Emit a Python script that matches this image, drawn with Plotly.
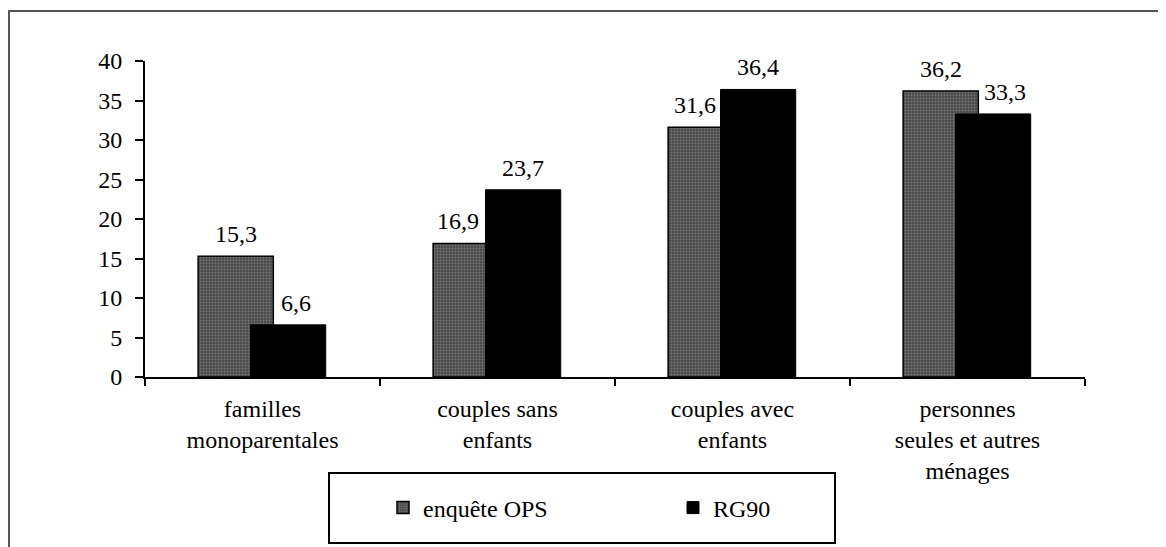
import plotly.graph_objects as go

categories = ["familles<br>monoparentales", "couples sans<br>enfants",
              "couples avec<br>enfants", "personnes<br>seules et autres<br>ménages"]
ops_values = [15.3, 16.9, 31.6, 36.2]
rg90_values = [6.6, 23.7, 36.4, 33.3]
ops_labels = ["15,3", "16,9", "31,6", "36,2"]
rg90_labels = ["6,6", "23,7", "36,4", "33,3"]
y_ticks = [0, 5, 10, 15, 20, 25, 30, 35, 40]

FONT = "Liberation Serif"
FS = 24
BAR_W = 0.32
OPS_OFF = -0.274
RG_OFF = -0.051

# figure sits inside the page body's 8px margin
W, H = 1158, 539
L, T = 137, 53
PW, PH = 940, 316
R = W - L - PW
B = H - T - PH


def px_x(xw):  # window x -> paper
    return (xw - 8 - L) / PW


def px_y(yw):  # window y -> paper
    return (T + PH - (yw - 8)) / PH


fig = go.Figure()
fig.add_trace(go.Bar(
    name="enquête OPS", x=categories, y=ops_values,
    width=BAR_W, offset=OPS_OFF,
    marker=dict(color="#555555", line=dict(color="black", width=1.5),
                pattern=dict(shape=".", fgcolor="#a8a8a8", bgcolor="#4a4a4a",
                             size=3, solidity=0.3)),
    hoverinfo="skip"))
fig.add_trace(go.Bar(
    name="RG90", x=categories, y=rg90_values,
    width=BAR_W, offset=RG_OFF,
    marker=dict(color="black", line=dict(color="black", width=1)),
    hoverinfo="skip"))

annotations = []
ops_xshift = [0, -13, -11, 0]
for i, (v, t) in enumerate(zip(ops_values, ops_labels)):
    annotations.append(dict(x=i + OPS_OFF + BAR_W / 2, y=v, text=t, showarrow=False,
                            xref="x", yref="y", yanchor="middle", yshift=22,
                            xshift=ops_xshift[i],
                            font=dict(family=FONT, size=FS, color="black")))
rg_xshift = [8, 0, 0, 12]
for i, (v, t) in enumerate(zip(rg90_values, rg90_labels)):
    annotations.append(dict(x=i + RG_OFF + BAR_W / 2, y=v, text=t, showarrow=False,
                            xref="x", yref="y", yanchor="middle", yshift=22,
                            xshift=rg_xshift[i],
                            font=dict(family=FONT, size=FS, color="black")))

fig.update_layout(
    width=W, height=H,
    margin=dict(l=L, r=R, t=T, b=B, autoexpand=False),
    paper_bgcolor="white", plot_bgcolor="white",
    barmode="overlay",
    font=dict(family=FONT, size=FS, color="black"),
    showlegend=True,
    legend=dict(orientation="h", x=px_x(383), xanchor="left",
                y=px_y(508), yanchor="middle",
                borderwidth=0, entrywidth=245, bgcolor="rgba(0,0,0,0)",
                font=dict(family=FONT, size=FS, color="black")),
    annotations=annotations,
    xaxis=dict(type="category", range=[-0.5, 3.5], tickson="boundaries",
               ticks="outside", ticklen=7, tickwidth=2, tickcolor="black",
               showline=True, linecolor="black", linewidth=1.5,
               showgrid=False, zeroline=False, fixedrange=True,
               ticklabelstandoff=9),
    yaxis=dict(range=[0, 40], tickvals=y_ticks, ticks="outside", ticklen=8,
               tickwidth=2, tickcolor="black", showline=True, linecolor="black",
               linewidth=2, showgrid=False, zeroline=False, ticklabelstandoff=8),
    xaxis2=dict(type="category", overlaying="x", anchor="y", range=[-0.5, 3.5],
                categoryarray=categories, categoryorder="array",
                tickson="boundaries", ticks="inside", ticklen=7, tickwidth=2,
                tickcolor="black", showticklabels=False, showline=False,
                showgrid=False, zeroline=False, side="bottom",
                tickvals=categories),
    yaxis2=dict(overlaying="y", anchor="x", range=[0, 40], tickvals=y_ticks,
                ticks="inside", ticklen=8, tickwidth=2, tickcolor="black",
                showticklabels=False, showline=False, showgrid=False,
                zeroline=False, side="left"),
    shapes=[
        # outer frame (top and left edges)
        dict(type="line", xref="paper", yref="paper", x0=px_x(8), x1=px_x(1200),
             y0=px_y(11), y1=px_y(11), line=dict(color="#555555", width=2)),
        dict(type="line", xref="paper", yref="paper", x0=px_x(9), x1=px_x(9),
             y0=px_y(11), y1=px_y(600), line=dict(color="#555555", width=2)),
        # legend box
        dict(type="rect", xref="paper", yref="paper", x0=px_x(329), x1=px_x(835),
             y0=px_y(543), y1=px_y(473), line=dict(color="black", width=2),
             fillcolor="rgba(0,0,0,0)", layer="below"),
    ],
)

fig.write_html("out.html")
